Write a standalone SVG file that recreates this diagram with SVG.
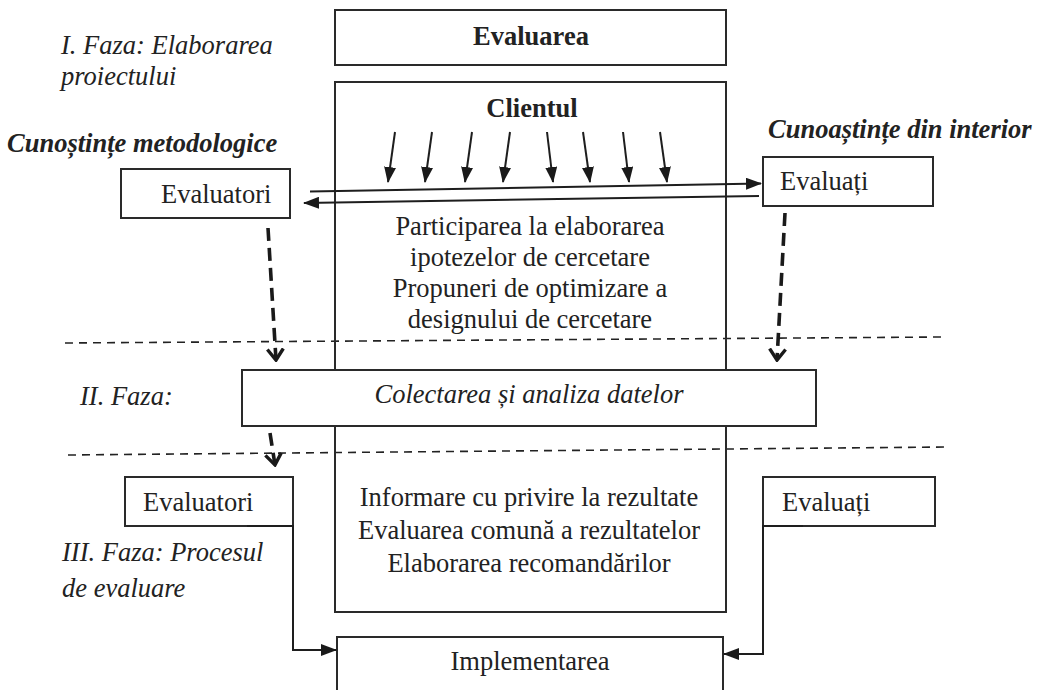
<svg xmlns="http://www.w3.org/2000/svg" width="1038" height="690" viewBox="0 0 1038 690">
<defs>
<style>
.box{fill:#fff;stroke:#2a2a2a;stroke-width:2}
.col{fill:none;stroke:#2a2a2a;stroke-width:2}
.t{font-family:"Liberation Serif","Times New Roman",serif;font-size:26.5px;fill:#222}
.b{font-weight:bold}
.i{font-style:italic}
.c{text-anchor:middle}
.ln{stroke:#1e1e1e;stroke-width:2;fill:none}
.sep{stroke:#222;stroke-width:1.6;stroke-dasharray:8 6;fill:none}
.dash{stroke:#1a1a1a;stroke-width:3.6;stroke-dasharray:13 7;fill:none}
</style>
<marker id="ah" viewBox="0 0 16 12" refX="15" refY="6" markerWidth="16" markerHeight="12" markerUnits="userSpaceOnUse" orient="auto">
<path d="M0,0 L16,6 L0,12 z" fill="#1a1a1a"/>
</marker>
<marker id="oh" viewBox="0 0 14 20" refX="12" refY="10" markerWidth="14" markerHeight="20" markerUnits="userSpaceOnUse" orient="auto">
<path d="M1,2 L12,10 L1,18" fill="none" stroke="#1a1a1a" stroke-width="3.4"/>
</marker>
</defs>
<rect width="1038" height="690" fill="#fff"/>

<g id="separators">
<path class="sep" d="M65,343 L943,337"/>
<path class="sep" d="M68,455 L945,447"/>
</g>

<g id="column">
<rect class="col" x="335" y="82" width="391" height="530"/>
<text class="t b c" x="532" y="117">Clientul</text>
<text class="t c" x="530" y="235">Participarea la elaborarea</text>
<text class="t c" x="530" y="266">ipotezelor de cercetare</text>
<text class="t c" x="530" y="297">Propuneri de optimizare a</text>
<text class="t c" x="530" y="328">designului de cercetare</text>
<text class="t c" x="529" y="506">Informare cu privire la rezultate</text>
<text class="t c" x="529" y="539">Evaluarea comună a rezultatelor</text>
<text class="t c" x="529" y="572">Elaborarea recomandărilor</text>
</g>

<g id="evaluarea">
<rect class="box" x="335" y="10" width="391" height="55"/>
<text class="t b c" x="531" y="45">Evaluarea</text>
</g>

<g id="colectarea">
<rect class="box" x="242" y="370" width="574" height="56"/>
<text class="t i c" x="529" y="403">Colectarea și analiza datelor</text>
</g>

<g id="implementarea">
<rect class="box" x="337" y="637" width="386" height="70"/>
<text class="t c" x="530" y="670">Implementarea</text>
</g>

<g id="evaluatori1">
<rect class="box" x="121" y="169" width="169" height="49"/>
<text class="t" x="161" y="203">Evaluatori</text>
</g>
<g id="evaluati1">
<rect class="box" x="763" y="157" width="170" height="49"/>
<text class="t" x="780" y="190">Evaluați</text>
</g>
<g id="evaluatori2">
<rect class="box" x="125" y="477" width="168" height="49"/>
<text class="t" x="143" y="511">Evaluatori</text>
</g>
<g id="evaluati2">
<rect class="box" x="763" y="477" width="172" height="49"/>
<text class="t" x="782" y="511">Evaluați</text>
</g>

<g id="labels">
<text class="t i" x="61" y="54">I. Faza: Elaborarea</text>
<text class="t i" x="61" y="85">proiectului</text>
<text class="t b i" x="7" y="152">Cunoștințe metodologice</text>
<text class="t b i" x="768" y="138">Cunoaștințe din interior</text>
<text class="t i" x="80" y="405">II. Faza:</text>
<text class="t i" x="62" y="561">III. Faza: Procesul</text>
<text class="t i" x="62" y="597">de evaluare</text>
</g>

<g id="connectors">
<path class="ln" d="M395,132 L388,182" marker-end="url(#ah)"/>
<path class="ln" d="M432,132 L425,182" marker-end="url(#ah)"/>
<path class="ln" d="M472,132 L465,182" marker-end="url(#ah)"/>
<path class="ln" d="M510,132 L503,182" marker-end="url(#ah)"/>
<path class="ln" d="M547,132 L553,182" marker-end="url(#ah)"/>
<path class="ln" d="M583,132 L590,182" marker-end="url(#ah)"/>
<path class="ln" d="M623,132 L629,182" marker-end="url(#ah)"/>
<path class="ln" d="M660,132 L667,182" marker-end="url(#ah)"/>
<path class="ln" d="M310,191.5 L761,183.5" marker-end="url(#ah)"/>
<path class="ln" d="M759,196 L304,203" marker-end="url(#ah)"/>
<path class="dash" d="M268,228 L276,360" marker-end="url(#oh)"/>
<path class="dash" d="M785,213 L777,360" marker-end="url(#oh)"/>
<path class="dash" d="M270,433 L275,465" marker-end="url(#oh)"/>
<path class="ln" d="M247,526 H293 V650 H336" marker-end="url(#ah)"/>
<path class="ln" d="M803,526 H763 V654 H724" marker-end="url(#ah)"/>
</g>
</svg>
